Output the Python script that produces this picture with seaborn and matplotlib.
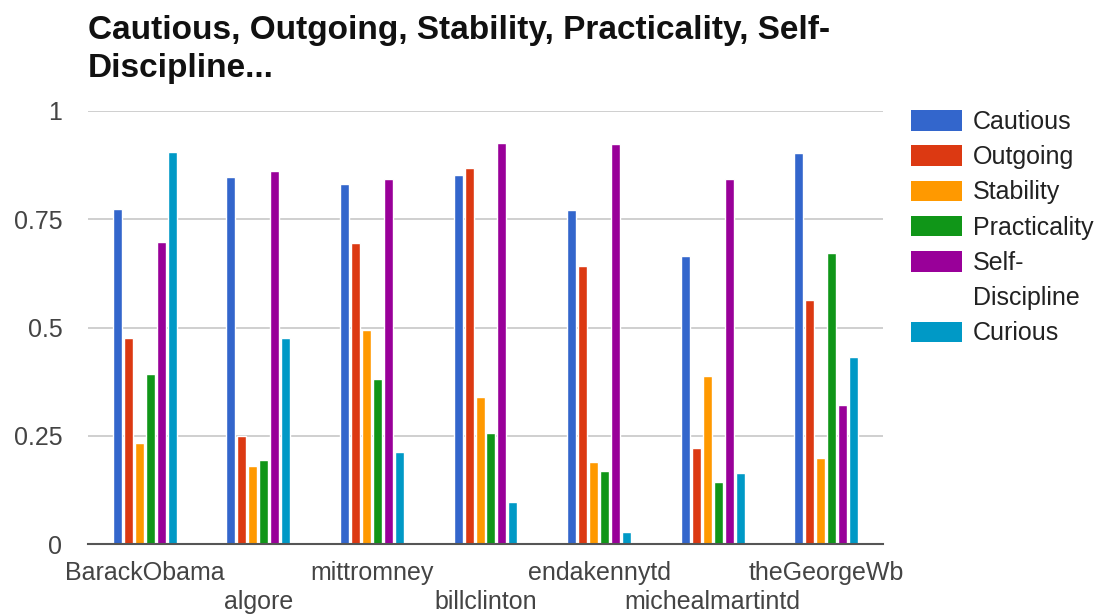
import matplotlib
matplotlib.use("Agg")
import matplotlib.pyplot as plt
import matplotlib.patches as mpatches
import seaborn as sns
import pandas as pd

# Personality trait scores per account
accounts = ["BarackObama", "algore", "mittromney", "billclinton",
            "endakennytd", "michealmartintd", "theGeorgeWb"]
traits = ["Cautious", "Outgoing", "Stability", "Practicality",
          "Self-Discipline", "Curious"]

cautious = [0.773, 0.847, 0.831, 0.852, 0.771, 0.665, 0.902]
outgoing = [0.476, 0.249, 0.694, 0.869, 0.642, 0.221, 0.563]
stability = [0.234, 0.181, 0.494, 0.340, 0.190, 0.388, 0.199]
practicality = [0.392, 0.195, 0.380, 0.257, 0.169, 0.143, 0.673]
self_discipline = [0.698, 0.861, 0.844, 0.927, 0.923, 0.844, 0.322]
curious = [0.905, 0.476, 0.213, 0.098, 0.028, 0.165, 0.432]

y_ticks = [0, 0.25, 0.5, 0.75, 1]
y_tick_labels = ["0", "0.25", "0.5", "0.75", "1"]

colors = ["#3366cc", "#dc3912", "#ff9900", "#109618", "#990099", "#0099c6"]

series = [cautious, outgoing, stability, practicality, self_discipline, curious]
rows = []
for trait, vals in zip(traits, series):
    for acc, v in zip(accounts, vals):
        rows.append({"account": acc, "trait": trait, "score": v})
df = pd.DataFrame(rows)

sns.set_theme(style="white")
plt.rcParams["font.family"] = ["Liberation Sans", "DejaVu Sans"]

W, H = 1117, 616
fig = plt.figure(figsize=(W / 100, H / 100), dpi=100)
ax = fig.add_axes([88 / W, 1 - 544 / H, (883 - 88) / W, (544 - 111) / H])

sns.barplot(data=df, x="account", y="score", hue="trait", order=accounts,
            hue_order=traits, palette=colors, width=0.58, gap=0.18,
            saturation=1, errorbar=None, legend=False, ax=ax)

ax.set_ylim(0, 1)
ax.set_xlim(-0.5, len(accounts) - 0.5)
ax.set_yticks(y_ticks)
ax.set_yticklabels(y_tick_labels)
ax.yaxis.grid(True, color="#cccccc", linewidth=1.3)
ax.set_axisbelow(True)
for s in ["top", "right", "left"]:
    ax.spines[s].set_visible(False)
ax.spines["bottom"].set_color("#555555")
ax.spines["bottom"].set_linewidth(1.5)
ax.spines["bottom"].set_zorder(5)
ax.set_xlabel("")
ax.set_ylabel("")

ax.set_xticks(range(len(accounts)))
ax.set_xticklabels(accounts, fontsize=18, color="#444444")
ax.tick_params(axis="x", length=0, pad=12)
ax.tick_params(axis="y", length=0, pad=18.5, labelsize=18, labelcolor="#444444")
# Stagger the category labels on two rows
for i, tick in enumerate(ax.xaxis.get_major_ticks()):
    if i % 2 == 1:
        tick.set_pad(33)

# Legend: the two-line label keeps its swatch on the first line
legend_labels = ["Cautious", "Outgoing", "Stability", "Practicality",
                 "Self-", "Discipline", "Curious"]
handles = [mpatches.Patch(facecolor=c, edgecolor="none") for c in colors[:5]]
handles.append(mpatches.Patch(facecolor="none", edgecolor="none"))
handles.append(mpatches.Patch(facecolor=colors[5], edgecolor="none"))
leg = fig.legend(handles, legend_labels, loc="upper left",
                 bbox_to_anchor=(901 / W, 1 - 100 / H), frameon=False,
                 fontsize=18, handlelength=2.05, handleheight=0.88,
                 handletextpad=0.42, labelspacing=0.45, borderaxespad=0)
for t in leg.get_texts():
    t.set_color("#222222")

fig.text(88 / W, 1 - 15 / H,
         "Cautious, Outgoing, Stability, Practicality, Self-\nDiscipline...",
         ha="left", va="top", fontsize=24, fontweight="bold", color="#111111",
         linespacing=1.3)

fig.savefig("out.png", dpi=100, facecolor="white")
